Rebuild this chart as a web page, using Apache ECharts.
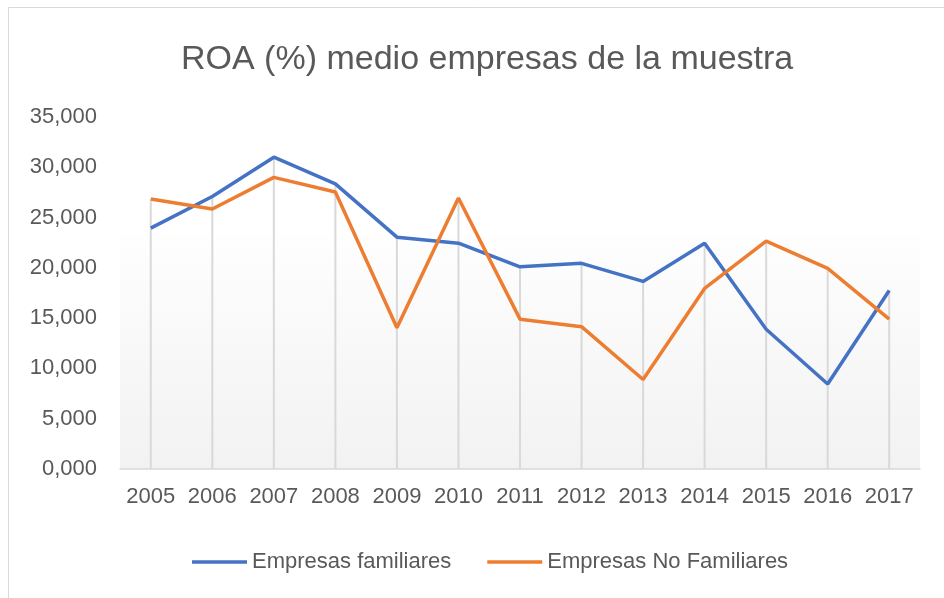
<!DOCTYPE html>
<html>
<head>
<meta charset="utf-8">
<script src="https://cdn.jsdelivr.net/npm/echarts@6/dist/echarts.min.js"></script>
<style>html,body{margin:0;padding:0;background:#fff;}#chart{width:944px;height:598px;}</style>
</head>
<body>
<div id="chart"></div>
<script>
const years = ['2005','2006','2007','2008','2009','2010','2011','2012','2013','2014','2015','2016','2017'];
const familiares = [23.95, 27.1, 31.0, 28.35, 23.05, 22.45, 20.1, 20.45, 18.65, 22.45, 13.9, 8.45, 17.75];
const noFamiliares = [26.85, 25.85, 29.0, 27.55, 14.05, 26.95, 14.9, 14.15, 8.9, 17.95, 22.65, 19.95, 14.9];
const yTicks = { min: 0, max: 35, interval: 5 };

const dropLines = years.map((y, i) => Math.max(familiares[i], noFamiliares[i]));
const font = 'Liberation Sans';
const chart = echarts.init(document.getElementById('chart'));
chart.setOption({
  backgroundColor: '#ffffff',
  animation: false,
  textStyle: { fontFamily: font },
  graphic: [{
    type: 'rect', shape: { x: 8.5, y: 7.5, width: 1000, height: 700 },
    style: { fill: 'none', stroke: '#d9d9d9', lineWidth: 1 }, silent: true, z: -10
  }],
  title: {
    text: 'ROA (%) medio empresas de la muestra',
    left: 176, top: 38,
    textStyle: { fontFamily: font, fontSize: 34, fontWeight: 'normal', color: '#595959' }
  },
  legend: {
    data: ['Empresas familiares', 'Empresas No Familiares'],
    left: 187, top: 546,
    icon: 'rect', itemWidth: 55, itemHeight: 3.5, itemGap: 36,
    textStyle: { fontFamily: font, fontSize: 22, color: '#595959' }
  },
  grid: {
    left: 120, right: 24, top: 117, bottom: 129, containLabel: false,
    show: true, borderWidth: 0,
    backgroundColor: new echarts.graphic.LinearGradient(0, 0, 0, 1, [
      { offset: 0, color: '#ffffff' },
      { offset: 0.33, color: '#ffffff' },
      { offset: 0.34, color: '#fefefe' },
      { offset: 1, color: '#f2f2f2' }
    ])
  },
  xAxis: {
    type: 'category', data: years, boundaryGap: true,
    axisLine: { show: true, lineStyle: { color: '#d9d9d9', width: 1.5 } },
    axisTick: { show: false },
    splitLine: { show: false },
    axisLabel: { interval: 0, margin: 17, fontFamily: font, fontSize: 22, color: '#595959' }
  },
  yAxis: {
    type: 'value', min: yTicks.min, max: yTicks.max, interval: yTicks.interval,
    axisLine: { show: false }, axisTick: { show: false },
    splitLine: { show: false },
    axisLabel: {
      margin: 23, fontFamily: font, fontSize: 22, color: '#595959',
      formatter: v => v.toFixed(3).replace('.', ',')
    }
  },
  series: [
    {
      name: 'drop', type: 'bar', data: dropLines, barWidth: 2,
      itemStyle: { color: '#d9d9d9' }, silent: true, z: 1
    },
    {
      name: 'Empresas familiares', type: 'line', data: familiares,
      symbol: 'none', lineStyle: { color: '#4472C4', width: 3.5 },
      itemStyle: { color: '#4472C4' }, z: 3
    },
    {
      name: 'Empresas No Familiares', type: 'line', data: noFamiliares,
      symbol: 'none', lineStyle: { color: '#ED7D31', width: 3.5 },
      itemStyle: { color: '#ED7D31' }, z: 3
    }
  ]
});
</script>
</body>
</html>
